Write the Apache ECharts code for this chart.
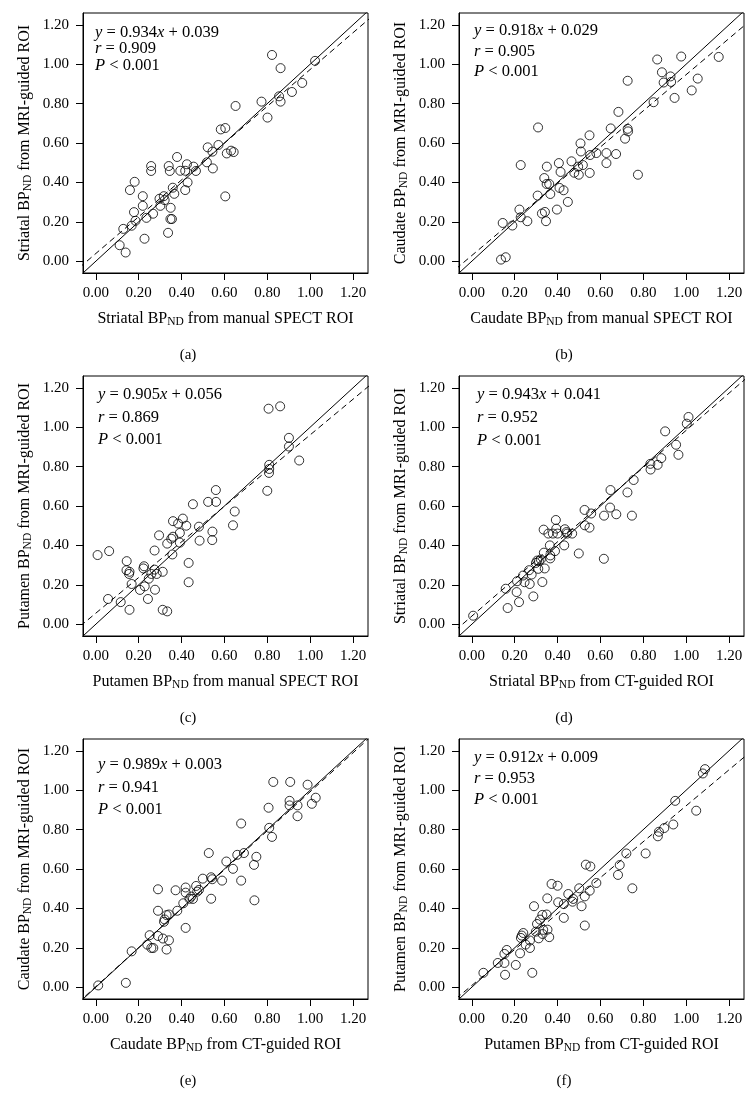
<!DOCTYPE html>
<html>
<head>
<meta charset="utf-8">
<script src="https://cdn.jsdelivr.net/npm/echarts@6/dist/echarts.min.js"></script>
<style>
html,body{margin:0;padding:0;background:#fff;}
#chart{width:754px;height:1097px;}
</style>
</head>
<body>
<div id="chart"></div>
<script>
// ---------- data ----------
const tickValues = [0, 0.2, 0.4, 0.6, 0.8, 1.0, 1.2];

const striatalManual = [[0.111,0.081],[0.139,0.044],[0.128,0.164],[0.159,0.361],[0.181,0.403],[0.178,0.249],[0.185,0.205],[0.167,0.180],[0.219,0.330],[0.219,0.281],[0.227,0.114],[0.236,0.220],[0.258,0.483],[0.258,0.458],[0.267,0.241],[0.301,0.281],[0.297,0.317],[0.317,0.330],[0.321,0.310],[0.337,0.144],[0.340,0.483],[0.345,0.458],[0.349,0.271],[0.348,0.214],[0.355,0.214],[0.359,0.373],[0.366,0.342],[0.379,0.529],[0.394,0.459],[0.417,0.459],[0.425,0.492],[0.417,0.361],[0.428,0.400],[0.456,0.480],[0.467,0.458],[0.518,0.502],[0.522,0.578],[0.546,0.471],[0.544,0.556],[0.572,0.590],[0.583,0.669],[0.604,0.676],[0.611,0.547],[0.604,0.329],[0.631,0.561],[0.643,0.554],[0.652,0.788],[0.773,0.810],[0.801,0.729],[0.822,1.047],[0.862,0.980],[0.855,0.837],[0.862,0.810],[0.915,0.859],[0.963,0.905],[1.023,1.017]];

const caudateManual = [[0.136,0.008],[0.158,0.020],[0.144,0.194],[0.189,0.181],[0.222,0.262],[0.228,0.223],[0.228,0.488],[0.259,0.203],[0.307,0.333],[0.309,0.679],[0.327,0.242],[0.341,0.250],[0.338,0.422],[0.346,0.203],[0.350,0.480],[0.349,0.392],[0.361,0.392],[0.366,0.341],[0.397,0.262],[0.406,0.498],[0.409,0.372],[0.414,0.453],[0.428,0.360],[0.448,0.301],[0.465,0.507],[0.478,0.449],[0.496,0.480],[0.499,0.439],[0.507,0.598],[0.509,0.557],[0.518,0.488],[0.549,0.639],[0.550,0.448],[0.552,0.539],[0.581,0.549],[0.628,0.549],[0.628,0.498],[0.648,0.674],[0.673,0.544],[0.684,0.758],[0.715,0.622],[0.727,0.916],[0.727,0.672],[0.729,0.659],[0.775,0.439],[0.848,0.807],[0.865,1.024],[0.887,0.959],[0.895,0.907],[0.927,0.938],[0.930,0.910],[0.946,0.829],[0.977,1.039],[1.026,0.867],[1.054,0.927],[1.152,1.037]];

const putamenManual = [[0.008,0.351],[0.062,0.371],[0.057,0.128],[0.116,0.112],[0.144,0.320],[0.143,0.274],[0.155,0.255],[0.157,0.266],[0.157,0.073],[0.167,0.204],[0.206,0.174],[0.225,0.294],[0.222,0.283],[0.228,0.192],[0.243,0.128],[0.247,0.231],[0.259,0.255],[0.274,0.374],[0.274,0.277],[0.276,0.175],[0.284,0.255],[0.295,0.451],[0.312,0.266],[0.312,0.073],[0.333,0.065],[0.333,0.409],[0.352,0.434],[0.357,0.354],[0.360,0.523],[0.360,0.444],[0.384,0.511],[0.392,0.463],[0.392,0.414],[0.406,0.536],[0.422,0.500],[0.433,0.311],[0.433,0.213],[0.453,0.609],[0.481,0.495],[0.484,0.424],[0.524,0.621],[0.544,0.470],[0.543,0.427],[0.560,0.681],[0.561,0.621],[0.640,0.502],[0.648,0.572],[0.800,0.677],[0.809,0.809],[0.806,1.094],[0.809,0.788],[0.808,0.768],[0.860,1.106],[0.901,0.946],[0.901,0.902],[0.949,0.831]];

const striatalCT = [[0.006,0.043],[0.158,0.180],[0.167,0.082],[0.209,0.163],[0.211,0.218],[0.220,0.112],[0.239,0.247],[0.246,0.213],[0.267,0.274],[0.270,0.204],[0.279,0.252],[0.287,0.141],[0.299,0.311],[0.305,0.323],[0.310,0.281],[0.313,0.320],[0.322,0.329],[0.329,0.214],[0.335,0.480],[0.336,0.363],[0.340,0.283],[0.357,0.460],[0.364,0.400],[0.366,0.349],[0.366,0.334],[0.378,0.460],[0.388,0.371],[0.392,0.529],[0.394,0.485],[0.400,0.460],[0.431,0.400],[0.434,0.482],[0.442,0.468],[0.445,0.460],[0.468,0.460],[0.499,0.359],[0.526,0.580],[0.527,0.502],[0.549,0.490],[0.557,0.562],[0.616,0.332],[0.617,0.551],[0.674,0.558],[0.645,0.592],[0.647,0.681],[0.726,0.669],[0.747,0.551],[0.755,0.732],[0.833,0.814],[0.834,0.785],[0.867,0.809],[0.884,0.843],[0.902,0.979],[0.953,0.911],[0.964,0.860],[1.003,1.018],[1.011,1.052]];

const caudateCT = [[0.011,0.009],[0.140,0.022],[0.167,0.182],[0.240,0.216],[0.251,0.264],[0.259,0.199],[0.268,0.199],[0.290,0.497],[0.290,0.388],[0.290,0.260],[0.313,0.247],[0.318,0.332],[0.321,0.344],[0.330,0.191],[0.330,0.366],[0.341,0.238],[0.341,0.369],[0.372,0.492],[0.380,0.388],[0.408,0.426],[0.419,0.506],[0.419,0.480],[0.419,0.301],[0.437,0.449],[0.445,0.460],[0.453,0.448],[0.468,0.514],[0.473,0.485],[0.481,0.494],[0.499,0.551],[0.527,0.681],[0.538,0.449],[0.538,0.558],[0.543,0.548],[0.589,0.541],[0.609,0.638],[0.640,0.601],[0.660,0.672],[0.678,0.831],[0.678,0.541],[0.691,0.681],[0.738,0.621],[0.740,0.441],[0.749,0.662],[0.806,0.911],[0.809,0.809],[0.822,0.763],[0.828,1.042],[0.907,1.042],[0.904,0.946],[0.904,0.923],[0.941,0.923],[0.941,0.868],[0.988,1.028],[1.008,0.931],[1.026,0.962]];

const putamenCT = [[0.054,0.073],[0.121,0.123],[0.152,0.123],[0.152,0.169],[0.155,0.063],[0.163,0.189],[0.205,0.113],[0.225,0.172],[0.229,0.250],[0.233,0.262],[0.240,0.275],[0.251,0.216],[0.271,0.237],[0.271,0.199],[0.282,0.073],[0.290,0.411],[0.299,0.282],[0.304,0.321],[0.312,0.248],[0.318,0.343],[0.329,0.367],[0.330,0.270],[0.333,0.291],[0.349,0.369],[0.352,0.451],[0.353,0.292],[0.361,0.254],[0.372,0.524],[0.400,0.515],[0.403,0.431],[0.429,0.422],[0.429,0.352],[0.450,0.473],[0.470,0.434],[0.473,0.448],[0.501,0.502],[0.512,0.411],[0.527,0.461],[0.532,0.622],[0.527,0.313],[0.550,0.490],[0.553,0.613],[0.581,0.529],[0.682,0.570],[0.690,0.620],[0.721,0.679],[0.749,0.502],[0.811,0.679],[0.868,0.766],[0.873,0.789],[0.898,0.808],[0.940,0.826],[0.949,0.946],[1.047,0.896],[1.078,1.085],[1.088,1.107]];

const slopes = [0.934, 0.918, 0.905, 0.943, 0.989, 0.912];
const intercepts = [0.039, 0.029, 0.056, 0.041, 0.003, 0.009];
const rValues = ['0.909', '0.905', '0.869', '0.952', '0.941', '0.953'];
const pText = '0.001';
const xTitles = [
  'Striatal BP{sub|ND} from manual SPECT ROI',
  'Caudate BP{sub|ND} from manual SPECT ROI',
  'Putamen BP{sub|ND} from manual SPECT ROI',
  'Striatal BP{sub|ND} from CT-guided ROI',
  'Caudate BP{sub|ND} from CT-guided ROI',
  'Putamen BP{sub|ND} from CT-guided ROI'
];
const yTitles = [
  'Striatal BP{sub|ND} from MRI-guided ROI',
  'Caudate BP{sub|ND} from MRI-guided ROI',
  'Putamen BP{sub|ND} from MRI-guided ROI',
  'Striatal BP{sub|ND} from MRI-guided ROI',
  'Caudate BP{sub|ND} from MRI-guided ROI',
  'Putamen BP{sub|ND} from MRI-guided ROI'
];
const panelLabels = ['(a)', '(b)', '(c)', '(d)', '(e)', '(f)'];
const panelData = [striatalManual, caudateManual, putamenManual, striatalCT, caudateCT, putamenCT];

// ---------- layout ----------
const FONT = "'Liberation Serif', 'DejaVu Serif', serif";
const X_MIN = -0.06, X_MAX = 1.27, Y_MIN = -0.06, Y_MAX = 1.26;
const colLeft = [83, 459];
const rowTop = [13, 376, 739];
const GW = 285, GH = 260;
// annotation offsets per panel: [dx, dyFirstLineCenter, lineSpacing]
const annot = [[12, 19, 16.5], [15, 18, 20.5], [15, 19, 22.5], [18, 19, 23], [15, 26, 22.5], [15, 19, 21]];

const subRich = {
  sub: { fontSize: 11.5, fontFamily: FONT, color: '#000', padding: [7, 0, 0, 0] }
};

const grids = [], xAxes = [], yAxes = [], series = [], graphics = [];
for (let i = 0; i < 6; i++) {
  const col = i % 2, row = Math.floor(i / 2);
  const L = colLeft[col], T = rowTop[row];
  grids.push({ left: L, top: T, width: GW, height: GH, show: true, borderColor: '#000', borderWidth: 1, backgroundColor: 'transparent' });
  xAxes.push({
    gridIndex: i, type: 'value', min: X_MIN, max: X_MAX,
    axisLine: { show: true, onZero: false, lineStyle: { color: '#000', width: 1 } },
    axisTick: { show: true, length: 7, customValues: tickValues, lineStyle: { color: '#000', width: 1 } },
    axisLabel: { customValues: tickValues, formatter: v => v.toFixed(2), color: '#000', fontFamily: FONT, fontSize: 15, margin: 13 },
    splitLine: { show: false },
    name: xTitles[i], nameLocation: 'middle', nameGap: 36,
    nameTextStyle: { color: '#000', fontFamily: FONT, fontSize: 16, rich: subRich }
  });
  yAxes.push({
    gridIndex: i, type: 'value', min: Y_MIN, max: Y_MAX,
    axisLine: { show: true, onZero: false, lineStyle: { color: '#000', width: 1 } },
    axisTick: { show: true, length: 7, customValues: tickValues, lineStyle: { color: '#000', width: 1 } },
    axisLabel: { customValues: tickValues, formatter: v => v.toFixed(2), color: '#000', fontFamily: FONT, fontSize: 15, margin: 14 },
    splitLine: { show: false },
    name: yTitles[i], nameLocation: 'middle', nameGap: 49,
    nameTextStyle: { color: '#000', fontFamily: FONT, fontSize: 16, rich: subRich }
  });
  // identity line (solid)
  series.push({
    type: 'line', xAxisIndex: i, yAxisIndex: i, clip: true, symbol: 'none', silent: true,
    data: [[X_MIN - 0.3, X_MIN - 0.3], [X_MAX + 0.3, X_MAX + 0.3]],
    lineStyle: { color: '#000', width: 1 }
  });
  // regression line (dashed)
  const x0 = X_MIN - 0.3, x1 = X_MAX + 0.3;
  series.push({
    type: 'line', xAxisIndex: i, yAxisIndex: i, clip: true, symbol: 'none', silent: true,
    data: [[x0, slopes[i] * x0 + intercepts[i]], [x1, slopes[i] * x1 + intercepts[i]]],
    lineStyle: { color: '#000', width: 1, type: [6, 4] }
  });
  series.push({
    type: 'scatter', xAxisIndex: i, yAxisIndex: i, symbol: 'circle', symbolSize: 9,
    data: panelData[i],
    itemStyle: { color: 'rgba(0,0,0,0)', borderColor: '#000', borderWidth: 1 }
  });
  const a = annot[i];
  const lh = a[2];
  graphics.push({
    type: 'text', left: L + a[0], top: T + a[1] - lh / 2,
    style: {
      text: '{i|y} = ' + slopes[i].toFixed(3) + '{i|x} + ' + intercepts[i].toFixed(3) + '\n{i|r} = ' + rValues[i] + '\n{i|P} < ' + pText,
      fill: '#000', fontFamily: FONT, fontSize: 16.5, lineHeight: lh,
      rich: { i: { fontStyle: 'italic', fontFamily: FONT, fontSize: 16.5, fill: '#000', lineHeight: lh } }
    }
  });
  graphics.push({
    type: 'text', x: 188 + col * 376, y: T + 342,
    style: { text: panelLabels[i], fill: '#000', fontFamily: FONT, fontSize: 15, align: 'center', verticalAlign: 'middle' }
  });
}

const chart = echarts.init(document.getElementById('chart'), null, { renderer: 'canvas' });
chart.setOption({
  backgroundColor: '#fff',
  animation: false,
  grid: grids, xAxis: xAxes, yAxis: yAxes, series: series, graphic: graphics
});
</script>
</body>
</html>
